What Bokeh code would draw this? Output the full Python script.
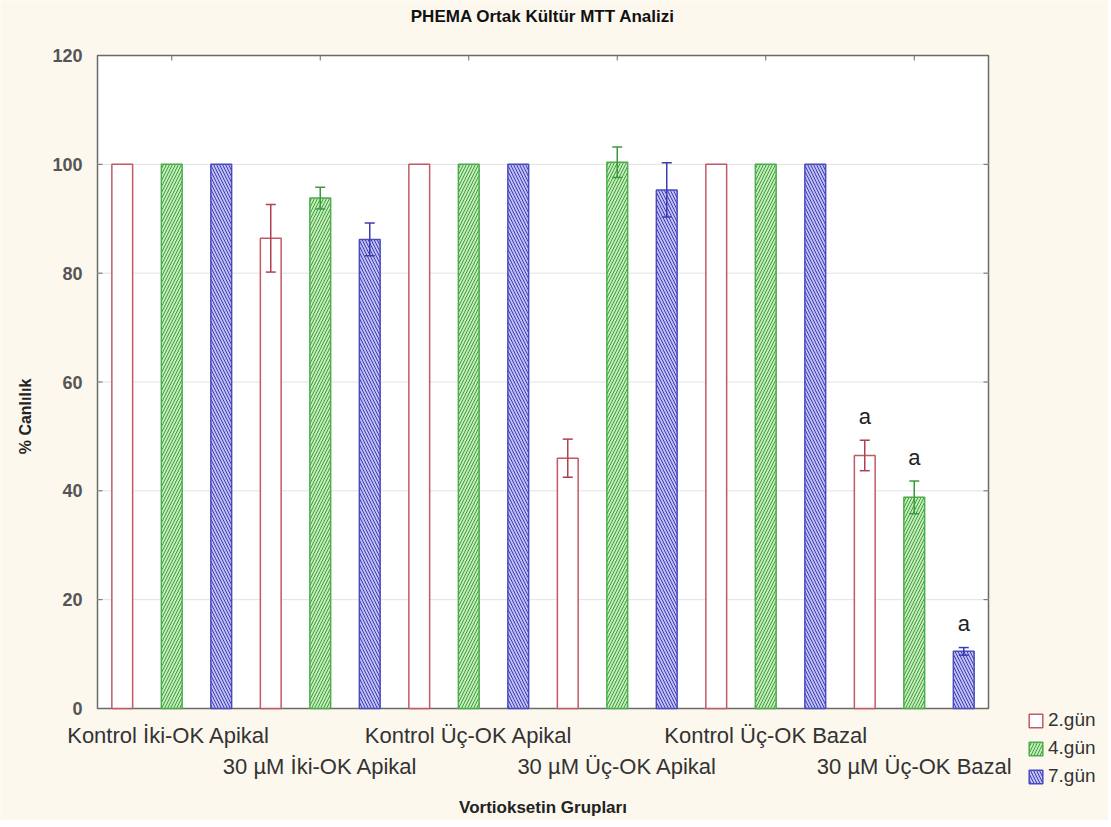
import math
from bokeh.plotting import figure
from bokeh.models import (ColumnDataSource, Range1d, Whisker, TeeHead, Legend, LegendItem)
from bokeh.core.properties import value
from bokeh.embed import file_html
from bokeh.resources import INLINE

# ---- data ----
groups = ["Kontrol  İki-OK Apikal", "30 µM İki-OK Apikal", "Kontrol Üç-OK Apikal",
          "30 µM Üç-OK Apikal", "Kontrol Üç-OK Bazal", "30 µM Üç-OK Bazal"]
days = ["2.gün", "4.gün", "7.gün"]
gun2 = [100, 86.4, 100, 46.0, 100, 46.5]
gun2_err = [0, 6.2, 0, 3.5, 0, 2.8]
gun4 = [100, 93.8, 100, 100.4, 100, 38.8]
gun4_err = [0, 2.0, 0, 2.8, 0, 3.0]
gun7 = [100, 86.2, 100, 95.3, 100, 10.5]
gun7_err = [0, 3.0, 0, 5.0, 0, 0.7]
sig2 = ["", "", "", "", "", "a"]
sig4 = ["", "", "", "", "", "a"]
sig7 = ["", "", "", "", "", "a"]
y_ticks = [0, 20, 40, 60, 80, 100, 120]
y_tick_labels = ["0", "20", "40", "60", "80", "100", "120"]
grid_vals = [20, 40, 60, 80, 100]
title_text = "PHEMA Ortak Kültür MTT Analizi"
y_title = "% Canlılık"
x_title = "Vortioksetin Grupları"

styles = [
    dict(fill_color="white", line_color="#c25a66", hatch_pattern=None,
         hatch_color=None, err_color="#b04050"),
    dict(fill_color="#c4ecbb", line_color="#4aae4a", hatch_pattern="/",
         hatch_color="#3f9e3f", err_color="#3a9a3a"),
    dict(fill_color="#c0c0f2", line_color="#4b4bc0", hatch_pattern="\\",
         hatch_color="#3c3cb8", err_color="#3c3cb0"),
]
series = [(gun2, gun2_err, sig2), (gun4, gun4_err, sig4), (gun7, gun7_err, sig7)]

FONT = "Liberation Sans"
BG = "#fcf8ee"
AX = "#6a6a6a"

# ---- layout geometry (pixels) ----
W, H = 1108, 820
PLOT_LEFT, PLOT_TOP, PLOT_RIGHT, PLOT_BOTTOM = 97, 55, 988, 708
NCAT = 18
YMAX = 120
px_x = (PLOT_RIGHT - PLOT_LEFT) / NCAT
px_y = (PLOT_BOTTOM - PLOT_TOP) / YMAX

p = figure(width=W, height=H, frame_width=W, frame_height=H,
           output_backend="svg", toolbar_location=None,
           x_range=Range1d(-PLOT_LEFT / px_x, (W - PLOT_LEFT) / px_x),
           y_range=Range1d(-(H - PLOT_BOTTOM) / px_y, PLOT_BOTTOM / px_y),
           x_axis_location=None, y_axis_location=None, min_border=0)
p.title.text = ""
p.title.text_font_size = "0px"
p.title.standoff = 0
p.background_fill_color = BG
p.border_fill_color = BG
p.outline_line_color = None
p.xgrid.visible = False
p.ygrid.visible = False

group_centers = [g * 3 + 1.5 for g in range(len(groups))]
n_t = len(y_ticks)
n_g = len(group_centers)

# plot box, grid lines and inner ticks
p.quad(left=[0], right=[NCAT], bottom=[0], top=[YMAX], fill_color="white",
       line_color=AX, line_width=1.5, level="image")
p.segment(x0=[0] * len(grid_vals), x1=[NCAT] * len(grid_vals), y0=grid_vals, y1=grid_vals,
          line_color="#e2e2e2", line_width=1, level="underlay")
p.segment(x0=[0] * n_t, x1=[5 / px_x] * n_t, y0=y_ticks, y1=y_ticks,
          line_color=AX, line_width=1)
p.segment(x0=[NCAT] * n_t, x1=[NCAT - 5 / px_x] * n_t, y0=y_ticks, y1=y_ticks,
          line_color=AX, line_width=1)
p.segment(x0=group_centers, x1=group_centers, y0=[0] * n_g, y1=[5 / px_y] * n_g,
          line_color=AX, line_width=1)
p.segment(x0=group_centers, x1=group_centers, y0=[YMAX] * n_g, y1=[YMAX - 5 / px_y] * n_g,
          line_color=AX, line_width=1)

# y tick labels and y title
p.text(x=[0] * n_t, y=y_ticks, text=y_tick_labels, text_align="right",
       text_baseline="middle", x_offset=-15, text_font=value(FONT),
       text_font_size="18px", text_font_style="bold", text_color="#555555")
p.text(x=[0], y=[(PLOT_BOTTOM - 416) / px_y], text=[y_title], angle=math.pi / 2,
       text_align="center", text_baseline="middle", x_offset=-72, text_font=value(FONT),
       text_font_size="16px", text_font_style="bold", text_color="#222222")

# chart title
p.text(x=[NCAT / 2], y=[YMAX], text=[title_text], text_align="center",
       text_baseline="middle", y_offset=-39, text_font=value(FONT),
       text_font_size="17px", text_font_style="bold", text_color="#111111")

legend_items = []
for d, ((vals, errs, sigs), st) in enumerate(zip(series, styles)):
    xs = [g * 3 + d + 0.5 for g in range(len(groups))]
    src = ColumnDataSource(dict(x=xs, top=vals))
    kw = dict(fill_color=st["fill_color"], line_color=st["line_color"], line_width=1.5)
    if st["hatch_pattern"]:
        kw.update(hatch_pattern=st["hatch_pattern"], hatch_color=st["hatch_color"],
                  hatch_scale=6, hatch_weight=1)
    r = p.vbar(x="x", top="top", bottom=0, width=0.42, source=src, **kw)
    legend_items.append(LegendItem(label=days[d], renderers=[r]))

    ex = [x for x, e in zip(xs, errs) if e > 0]
    eu = [v + e for v, e in zip(vals, errs) if e > 0]
    el = [v - e for v, e in zip(vals, errs) if e > 0]
    esrc = ColumnDataSource(dict(x=ex, upper=eu, lower=el))
    w = Whisker(base="x", upper="upper", lower="lower", source=esrc, level="overlay",
                line_color=st["err_color"], line_width=1.5,
                upper_head=TeeHead(size=10, line_color=st["err_color"], line_width=1.5),
                lower_head=TeeHead(size=10, line_color=st["err_color"], line_width=1.5))
    p.add_layout(w)

    sx = [x for x, s in zip(xs, sigs) if s]
    sy = [v + e for v, e, s in zip(vals, errs, sigs) if s]
    stx = [s for s in sigs if s]
    p.text(x=sx, y=sy, text=stx, text_align="center", text_baseline="middle", y_offset=-24,
           text_font=value(FONT), text_font_size="22px", text_color="#222222")

# category labels (two staggered rows) and x-axis title, below the plot box
row1_x = [c for i, c in enumerate(group_centers) if i % 2 == 0]
row1_t = [g for i, g in enumerate(groups) if i % 2 == 0]
row2_x = [c for i, c in enumerate(group_centers) if i % 2 == 1]
row2_t = [g for i, g in enumerate(groups) if i % 2 == 1]
p.text(x=row1_x, y=[0] * len(row1_x), text=row1_t, text_align="center",
       text_baseline="middle", y_offset=27, text_font=value(FONT),
       text_font_size="22px", text_color="#333333")
p.text(x=row2_x, y=[0] * len(row2_x), text=row2_t, text_align="center",
       text_baseline="middle", y_offset=58, text_font=value(FONT),
       text_font_size="22px", text_color="#333333")
p.text(x=[NCAT / 2], y=[0], text=[x_title], text_align="center",
       text_baseline="middle", y_offset=99, text_font=value(FONT),
       text_font_size="17px", text_font_style="bold", text_color="#222222")

legend = Legend(items=legend_items, location=(1027, H - 787), orientation="vertical",
                label_text_font=FONT, label_text_font_size="19px", label_text_color="#333333",
                glyph_width=17, glyph_height=17, label_height=17, spacing=6, padding=0,
                margin=0, label_standoff=4, background_fill_color=BG, background_fill_alpha=1,
                border_line_color=None)
p.add_layout(legend)

open("out.html", "w").write(file_html(p, INLINE))
